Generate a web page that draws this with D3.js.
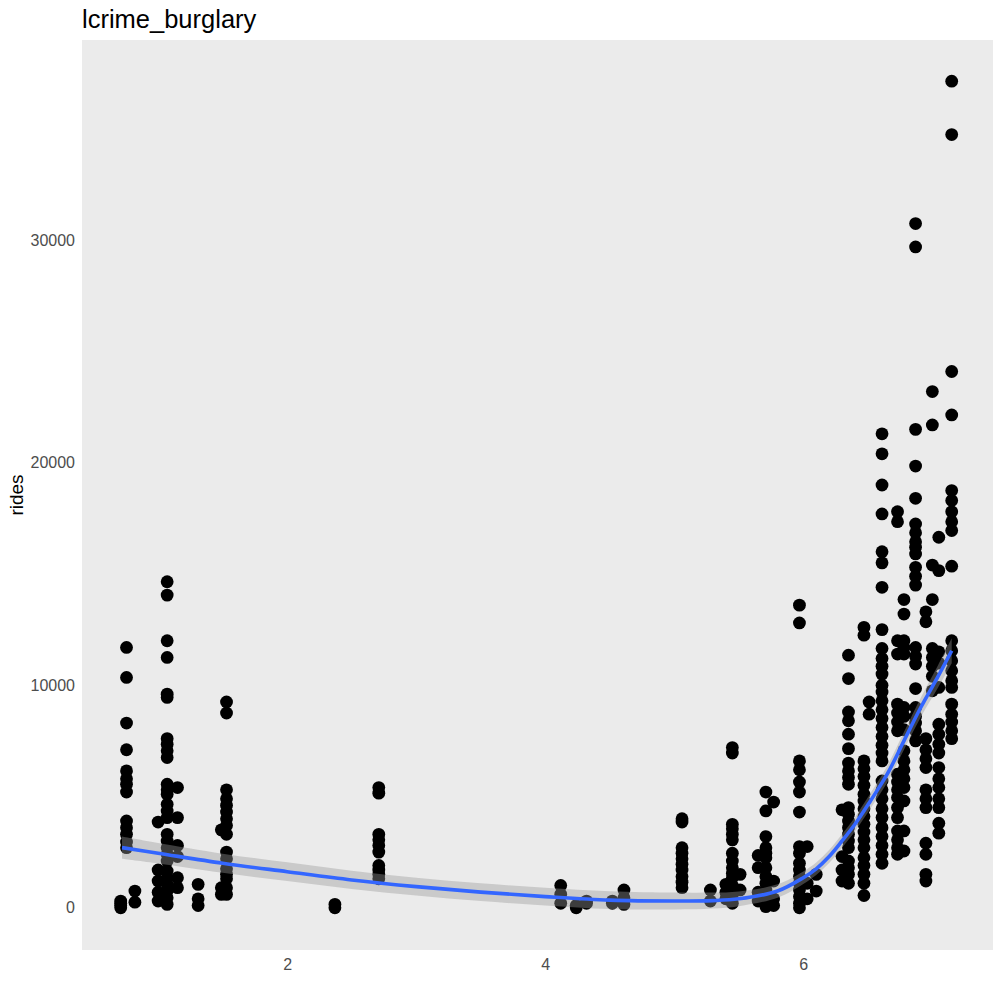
<!DOCTYPE html>
<html>
<head>
<meta charset="utf-8">
<script src="https://cdn.jsdelivr.net/npm/d3@7"></script>
<style>
  body { margin: 0; background: #fff; overflow: hidden; }
  svg { display: block; font-family: "Liberation Sans", Arial, sans-serif; }
</style>
</head>
<body>
<div id="chart"></div>
<script>
// x positions of the point columns (lcrime_burglary)
const burglaryLevels = [0.71, 0.755, 0.82, 1.0, 1.07, 1.15, 1.31, 1.49, 1.53, 2.37, 2.71,
    4.12, 4.24, 4.32, 4.52, 4.61, 5.06, 5.28, 5.40, 5.45, 5.51, 5.65, 5.71, 5.77,
    5.97, 6.03, 6.10, 6.30, 6.35, 6.47, 6.51, 6.61, 6.73, 6.78, 6.87, 6.95, 7.0, 7.05, 7.15];

// rides, same order as burglaryLevels
const ridesAtLevel = [
    [0, 100, 200, 300],
    [11700, 10350, 8300, 7100, 6150, 5800, 5550, 5200, 3900, 3600, 3300, 2950, 2700],
    [750, 250],
    [3850, 1700, 1200, 700, 300],
    [14650, 14050, 12000, 11250, 9600, 9450, 7600, 7350, 7050, 6750, 5550, 5300, 5100, 4650, 4350,
     4050, 3300, 3000, 2700, 2400, 2100, 1650, 1350, 1050, 750, 450, 150],
    [5400, 4050, 2800, 2300, 1350, 900],
    [1050, 400, 100],
    [3500, 900, 600],
    [9250, 8750, 5300, 4900, 4600, 4300, 4000, 3700, 3300, 2500, 2200, 1750, 1500, 1300, 900, 600],
    [0, 150],
    [5400, 5150, 3300, 3050, 2800, 2500, 1900, 1700, 1500, 1300],
    [1000, 600, 200],
    [0, 100],
    [300, 200],
    [300, 200],
    [800, 450, 150],
    [4000, 3850, 2700, 2450, 2200, 1950, 1700, 1400, 1150, 900],
    [800, 300],
    [1050, 700, 400],
    [7200, 6950, 3750, 3550, 3300, 3050, 2450, 2100, 1800, 1550, 1350, 1000, 700, 450, 200],
    [1500, 800],
    [2350, 1800, 700, 300],
    [5200, 4350, 3200, 2700, 2450, 2250, 1800, 1400, 1100, 800, 500, 200, 50],
    [4750, 1200, 400, 100],
    [13600, 12800, 6600, 6200, 5650, 5200, 4300, 2750, 2450, 2000, 1700, 1400, 1100, 800, 500, 200, 0],
    [2750, 1100, 400],
    [1500, 750],
    [4400, 2300, 1700, 1200],
    [11350, 10300, 8800, 8400, 7800, 7150, 6500, 6150, 5850, 5550, 4500, 4200, 3900, 3600, 3300,
     3000, 2700, 2100, 1800, 1500, 1100],
    [12600, 12250, 6600, 6250, 5900, 5500, 5100, 4800, 4450, 4100, 3750, 3400, 3050, 2700, 2250,
     1900, 1500, 1100, 550],
    [9250, 8700],
    [21300, 20400, 19000, 17700, 16000, 15500, 14400, 12500, 11650, 11200, 10850, 10500, 10000, 9700,
     9300, 8900, 8500, 8100, 7700, 7300, 6950, 6600, 5700, 5300, 4900, 4450, 4050, 3600, 3200, 2800, 2400, 2000],
    [17800, 17350, 12000, 11400, 9150, 8750, 8350, 7950, 6000, 5650, 5300, 4950, 4500, 4050, 3450, 3050, 2700, 2400],
    [13850, 13200, 12000, 11700, 11400, 9000, 8600, 8000, 7050, 6600, 6200, 5800, 5400, 4800, 3450, 2550],
    [30750, 29700, 21500, 19850, 18400, 17250, 16850, 16450, 16200, 15900, 15300, 14900, 14500, 11700,
     11300, 10950, 9850, 9000, 8600, 8300, 7950, 7500],
    [13300, 12850, 7600, 7100, 6700, 6300, 5300, 4900, 4500, 2900, 2400, 1500, 1200],
    [23200, 21700, 15400, 13850, 11650, 11250, 10850, 10400, 9750],
    [16650, 15150, 11500, 11000, 9900, 8250, 7800, 7350, 6950, 6300, 5800, 5400, 4900, 4500, 3800, 3350],
    [37150, 34750, 24100, 22150, 18750, 18300, 17800, 17350, 16950, 15350, 12000, 11550, 11100, 10650,
     10200, 9900, 9150, 8700, 8350, 7950, 7600]
];

// smoothed fit and its standard error band
const smoothX   = [0.72, 1.0, 1.5, 2.0, 2.5, 3.0, 3.5, 4.0, 4.5, 5.0, 5.3, 5.5, 5.8, 6.0, 6.1, 6.2, 6.3, 6.4, 6.52, 6.65, 6.78, 6.91, 7.04, 7.15];
const smoothFit = [2700, 2450, 2000, 1620, 1250, 950, 700, 500, 340, 300, 320, 400, 750, 1350, 1750, 2300, 3000, 3750, 4800, 6000, 7500, 9000, 10350, 11550];
const smoothSe  = [500, 460, 430, 420, 410, 400, 400, 400, 400, 380, 360, 330, 300, 280, 280, 290, 300, 320, 340, 370, 400, 440, 500, 560];

const xTicks = [2, 4, 6];
const yTicks = [0, 10000, 20000, 30000];

const width = 1000;
const height = 1000;
const margin = { top: 40, right: 7, bottom: 50, left: 82 };
const innerWidth = width - margin.left - margin.right;
const innerHeight = height - margin.top - margin.bottom;

const svg = d3.select('#chart')
    .append('svg')
    .attr('width', width)
    .attr('height', height);

const g = svg.append('g')
    .attr('transform', `translate(${margin.left},${margin.top})`);

const xScale = d3.scaleLinear()
    .domain([0.41, 7.47])
    .range([0, innerWidth]);

const yScale = d3.scaleLinear()
    .domain([-1900, 39000])
    .range([innerHeight, 0]);

// grey panel
g.append('rect')
    .attr('width', innerWidth)
    .attr('height', innerHeight)
    .attr('fill', '#EBEBEB');

const points = burglaryLevels.flatMap((x, i) => ridesAtLevel[i].map(r => ({ x: x, rides: r })));

g.selectAll('circle')
    .data(points)
    .enter()
    .append('circle')
    .attr('cx', d => xScale(d.x))
    .attr('cy', d => yScale(d.rides))
    .attr('r', 6.4)
    .attr('fill', '#000');

const smooth = smoothX.map((x, i) => ({ x: x, fit: smoothFit[i], se: smoothSe[i] }));

const band = d3.area()
    .x(d => xScale(d.x))
    .y0(d => yScale(d.fit - d.se))
    .y1(d => yScale(d.fit + d.se))
    .curve(d3.curveCatmullRom);

g.append('path')
    .datum(smooth)
    .attr('d', band)
    .attr('fill', '#999999')
    .attr('fill-opacity', 0.4);

const line = d3.line()
    .x(d => xScale(d.x))
    .y(d => yScale(d.fit))
    .curve(d3.curveCatmullRom);

g.append('path')
    .datum(smooth)
    .attr('d', line)
    .attr('fill', 'none')
    .attr('stroke', '#3366FF')
    .attr('stroke-width', 3.6);

// axes, no tick marks or domain line
const xAxis = g.append('g')
    .attr('transform', `translate(0,${innerHeight})`)
    .call(d3.axisBottom(xScale).tickValues(xTicks).tickSize(0).tickPadding(9).tickFormat(d3.format('d')));

const yAxis = g.append('g')
    .call(d3.axisLeft(yScale).tickValues(yTicks).tickSize(0).tickPadding(7).tickFormat(d3.format('d')));

[xAxis, yAxis].forEach(a => {
    a.select('.domain').remove();
    a.selectAll('text')
        .attr('fill', '#4D4D4D')
        .style('font-size', '16px')
        .style('font-family', '"Liberation Sans", Arial, sans-serif');
});

svg.append('text')
    .attr('x', margin.left)
    .attr('y', 28)
    .style('font-size', '25.5px')
    .attr('fill', '#000')
    .text('lcrime_burglary');

svg.append('text')
    .attr('transform', `translate(23,${margin.top + innerHeight / 2}) rotate(-90)`)
    .attr('text-anchor', 'middle')
    .style('font-size', '19px')
    .attr('fill', '#000')
    .text('rides');
</script>
</body>
</html>
